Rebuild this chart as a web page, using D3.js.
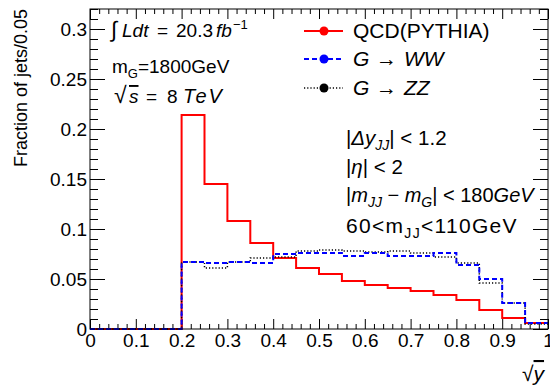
<!DOCTYPE html>
<html>
<head>
<meta charset="utf-8">
<script src="https://cdn.jsdelivr.net/npm/d3@7"></script>
<style>
  body { margin: 0; background: #fff; }
  svg { display: block; font-family: "Liberation Sans", Arial, Helvetica, sans-serif; }
  .tick line { stroke: #000; }
</style>
</head>
<body>
<svg id="chart" width="550" height="388"></svg>
<script>
// bin edges (low edge of every bin, plus the last high edge)
const binEdges = [0, 0.05, 0.1, 0.15, 0.2, 0.25, 0.3, 0.35, 0.4, 0.45,
                  0.5, 0.55, 0.6, 0.65, 0.7, 0.75, 0.8, 0.85, 0.9, 0.95, 1.0];

// fraction of jets per bin
const qcd = [0, 0, 0, 0, 0.214, 0.145, 0.108, 0.086, 0.071, 0.061,
             0.055, 0.048, 0.044, 0.041, 0.038, 0.034, 0.029, 0.019, 0.011, 0.006];
const gww = [0, 0, 0, 0, 0.067, 0.066, 0.067, 0.066, 0.075, 0.076,
             0.076, 0.073, 0.076, 0.073, 0.073, 0.076, 0.064, 0.050, 0.026, 0.006];
const gzz = [0, 0, 0, 0, 0.067, 0.061, 0.067, 0.071, 0.072, 0.078,
             0.079, 0.078, 0.077, 0.078, 0.076, 0.072, 0.066, 0.046, 0.026, 0.005];

const xTickLabels = [0, 0.1, 0.2, 0.3, 0.4, 0.5, 0.6, 0.7, 0.8, 0.9, 1];
const yTickLabels = [0, 0.05, 0.1, 0.15, 0.2, 0.25, 0.3];

const svg = d3.select("#chart");
const frame = { left: 90, right: 548, top: 9, bottom: 329 };

const x = d3.scaleLinear().domain([0, 1]).range([frame.left, frame.right]);
const y = d3.scaleLinear().domain([0, 0.32]).range([frame.bottom, frame.top]);

// minor ticks
const xMinor = d3.range(0, 1.0001, 0.02).filter(v => Math.abs(v * 10 - Math.round(v * 10)) > 1e-6);
const yMinor = d3.range(0, 0.3201, 0.01).filter(v => Math.abs(v * 20 - Math.round(v * 20)) > 1e-6);

function addAxis(axis, transform, cls) {
    const g = svg.append("g").attr("class", cls)
        .attr("transform", transform)
        .call(axis);
    g.select(".domain").remove();
    return g;
}

// bottom
addAxis(d3.axisBottom(x).tickValues(xTickLabels).tickSize(-10).tickPadding(5)
        .tickFormat(d => d === 0 ? "0" : d3.format("")(d)),
        `translate(0,${frame.bottom})`, "x-axis")
    .selectAll("text").attr("font-size", 19).attr("fill", "#000");
addAxis(d3.axisBottom(x).tickValues(xMinor).tickSize(-5).tickFormat(""),
        `translate(0,${frame.bottom})`, "x-minor");
// top
addAxis(d3.axisTop(x).tickValues(xTickLabels).tickSize(-10).tickFormat(""),
        `translate(0,${frame.top})`, "x-top");
addAxis(d3.axisTop(x).tickValues(xMinor).tickSize(-5).tickFormat(""),
        `translate(0,${frame.top})`, "x-top-minor");
// left
addAxis(d3.axisLeft(y).tickValues(yTickLabels).tickSize(-15).tickPadding(3)
        .tickFormat(d => d === 0 ? "0" : d3.format("")(d)),
        `translate(${frame.left},0)`, "y-axis")
    .selectAll("text").attr("font-size", 19).attr("fill", "#000");
addAxis(d3.axisLeft(y).tickValues(yMinor).tickSize(-8).tickFormat(""),
        `translate(${frame.left},0)`, "y-minor");
// right
addAxis(d3.axisRight(y).tickValues(yTickLabels).tickSize(-15).tickFormat(""),
        `translate(${frame.right},0)`, "y-right");
addAxis(d3.axisRight(y).tickValues(yMinor).tickSize(-8).tickFormat(""),
        `translate(${frame.right},0)`, "y-right-minor");

// histograms
function steps(vals) {
    const pts = vals.map((v, i) => [binEdges[i], v]);
    pts.push([binEdges[binEdges.length - 1], vals[vals.length - 1]]);
    return pts;
}
const line = d3.line().x(d => x(d[0])).y(d => y(d[1])).curve(d3.curveStepAfter);

svg.append("clipPath").attr("id", "clip").append("rect")
    .attr("x", frame.left).attr("y", frame.top)
    .attr("width", frame.right - frame.left).attr("height", frame.bottom - frame.top + 2);

const series = [
    { name: "QCD", vals: qcd, color: "#ff0000", dash: null, width: 2 },
    { name: "ZZ", vals: gzz, color: "#000", dash: "1.2,2", width: 1.5 },
    { name: "WW", vals: gww, color: "#0000ff", dash: "5,3", width: 2 }
];
const hist = svg.append("g").attr("clip-path", "url(#clip)");
series.forEach(s => {
    hist.append("path")
        .attr("d", line(steps(s.vals)))
        .attr("fill", "none")
        .attr("stroke", s.color)
        .attr("stroke-width", s.width)
        .attr("stroke-dasharray", s.dash);
});

// frame
svg.append("rect")
    .attr("x", frame.left).attr("y", frame.top)
    .attr("width", frame.right - frame.left).attr("height", frame.bottom - frame.top)
    .attr("fill", "none").attr("stroke", "#000").attr("stroke-width", 1);

// axis titles
svg.append("text")
    .attr("transform", `translate(27,${frame.top}) rotate(-90)`)
    .attr("text-anchor", "end").attr("font-size", 18)
    .text("Fraction of jets/0.05");

const xt = svg.append("text").attr("x", 522).attr("y", 381).attr("font-size", 21);
xt.append("tspan").text("√");
xt.append("tspan").attr("font-style", "italic").style("text-decoration", "overline").text("y");

// left annotations
const t1 = svg.append("text").attr("y", 37).attr("font-size", 19);
t1.append("tspan").attr("x", 111).attr("font-size", 22).text("∫");
t1.append("tspan").attr("x", 122).attr("font-style", "italic").text("Ldt");
t1.append("tspan").attr("x", 157).text("=");
t1.append("tspan").attr("x", 176).text("20.3");
t1.append("tspan").attr("x", 216).attr("font-style", "italic").text("fb");
t1.append("tspan").attr("x", 233).attr("font-size", 13).attr("dy", -8).text("−1");

const t2 = svg.append("text").attr("x", 112).attr("y", 73).attr("font-size", 19);
t2.append("tspan").text("m");
t2.append("tspan").attr("font-size", 13).attr("dy", 5).text("G");
t2.append("tspan").attr("dy", -5).text("=1800GeV");

const t3 = svg.append("text").attr("y", 103).attr("font-size", 19);
t3.append("tspan").attr("x", 114).attr("font-size", 23).text("√");
t3.append("tspan").attr("x", 129).attr("font-style", "italic").style("text-decoration", "overline").text("s");
t3.append("tspan").attr("x", 146).text("=");
t3.append("tspan").attr("x", 167).text("8");
t3.append("tspan").attr("x", 183).attr("font-style", "italic").attr("font-size", 20)
    .attr("letter-spacing", 2).text("TeV");

// legend
const legendRows = [
    { s: series[0], y: 31, parts: [["QCD(PYTHIA)", false, 353]] },
    { s: series[2], y: 59, parts: [["G", true, 353], ["→", false, 376], ["WW", true, 404]] },
    { s: series[1], y: 88, parts: [["G", true, 353], ["→", false, 376], ["ZZ", true, 404]] }
];
const lg = svg.append("g");
legendRows.forEach(r => {
    lg.append("line")
        .attr("x1", 304).attr("x2", 343).attr("y1", r.y).attr("y2", r.y)
        .attr("stroke", r.s.color).attr("stroke-width", r.s.width)
        .attr("stroke-dasharray", r.s.dash);
    lg.append("circle").attr("cx", 324).attr("cy", r.y).attr("r", 4.5).attr("fill", r.s.color);
    const t = lg.append("text").attr("y", r.y + 7).attr("font-size", 21);
    r.parts.forEach(p => t.append("tspan").attr("x", p[2])
        .attr("font-style", p[1] ? "italic" : null).text(p[0]));
});

// selection cuts
const c1 = svg.append("text").attr("x", 346).attr("y", 145).attr("font-size", 20.5);
c1.append("tspan").text("|");
c1.append("tspan").attr("font-style", "italic").text("Δy");
c1.append("tspan").attr("font-style", "italic").attr("font-size", 14).attr("dy", 5).text("JJ");
c1.append("tspan").attr("dy", -5).text("| < 1.2");

const c2 = svg.append("text").attr("x", 346).attr("y", 174).attr("font-size", 20.5);
c2.append("tspan").text("|");
c2.append("tspan").attr("font-style", "italic").text("η");
c2.append("tspan").text("| < 2");

const c3 = svg.append("text").attr("x", 346).attr("y", 202).attr("font-size", 20);
c3.append("tspan").text("|");
c3.append("tspan").attr("font-style", "italic").text("m");
c3.append("tspan").attr("font-style", "italic").attr("font-size", 14).attr("dy", 5).text("JJ");
c3.append("tspan").attr("dy", -5).text(" − ");
c3.append("tspan").attr("font-style", "italic").text("m");
c3.append("tspan").attr("font-style", "italic").attr("font-size", 14).attr("dy", 5).text("G");
c3.append("tspan").attr("dy", -5).text("| < 180");
c3.append("tspan").attr("font-style", "italic").text("GeV");

const c4 = svg.append("text").attr("x", 346).attr("y", 233).attr("font-size", 21)
    .attr("letter-spacing", 1.3);
c4.append("tspan").text("60<m");
c4.append("tspan").attr("font-size", 14).attr("dy", 5).text("JJ");
c4.append("tspan").attr("dy", -5).text("<110GeV");
</script>
</body>
</html>
